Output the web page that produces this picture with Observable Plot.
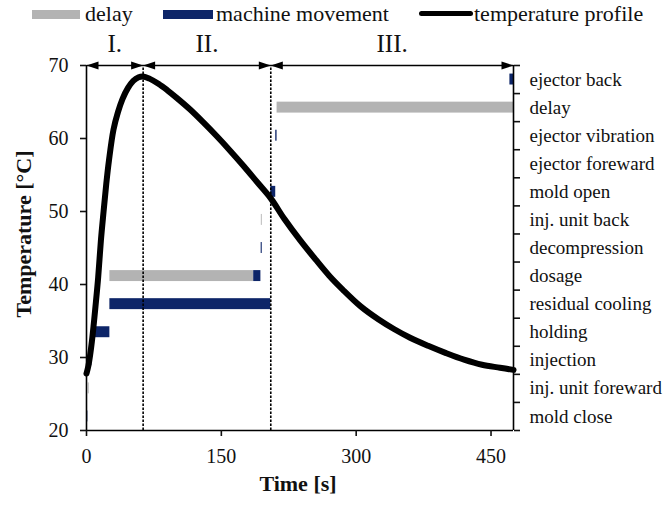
<!DOCTYPE html>
<html>
<head>
<meta charset="utf-8">
<script src="https://cdn.jsdelivr.net/npm/d3@7"></script>
<script src="https://cdn.jsdelivr.net/npm/@observablehq/plot@0.6"></script>
<style>
  html, body { margin: 0; padding: 0; background: #fff; }
  #wrap { position: relative; width: 668px; font-family: "Liberation Serif", "Times New Roman", serif; }
  #legend { position: relative; width: 668px; height: 30px; font-size: 22px; color: #111; }
  #legend .sw { position: absolute; }
  #legend .tx { position: absolute; top: 1px; white-space: nowrap; }
</style>
</head>
<body>
<div id="wrap">
  <div id="legend">
    <div class="sw" style="left:32px;top:10px;width:48px;height:9px;background:#b3b3b3"></div>
    <div class="tx" style="left:85px">delay</div>
    <div class="sw" style="left:163px;top:10px;width:50px;height:9px;background:#0d2568"></div>
    <div class="tx" style="left:216px">machine movement</div>
    <div class="sw" style="left:419px;top:11px;width:54px;height:5px;background:#000;border-radius:3px"></div>
    <div class="tx" style="left:474px">temperature profile</div>
  </div>
  <div id="chart"></div>
</div>
<script>
// ---- data ----
const timeS = [0, 2, 4, 6, 8, 10, 13, 16, 19, 22, 25, 30, 35, 40, 46, 52, 58, 63, 70, 80, 90, 100, 115, 130, 145, 160, 175, 190, 205, 220, 238, 255, 270, 285, 305, 325, 342, 360, 380, 400, 420, 440, 460, 475];
const tempC = [27.8, 28.8, 30.3, 32.2, 34.5, 37, 41, 46, 50, 53.8, 57, 61.2, 63.6, 65.4, 66.9, 67.9, 68.4, 68.5, 68.2, 67.5, 66.6, 65.6, 64.0, 62.2, 60.3, 58.3, 56.2, 54.0, 51.8, 49.0, 46.0, 43.4, 41.2, 39.3, 37.0, 35.2, 33.9, 32.7, 31.6, 30.6, 29.7, 29.0, 28.6, 28.3];

const rows = ["ejector back", "delay", "ejector vibration", "ejector foreward", "mold open", "inj. unit back", "decompression", "dosage", "residual cooling", "holding", "injection", "inj. unit foreward", "mold close"];

const barRow   = ["ejector back", "delay", "ejector vibration", "mold open", "inj. unit back", "decompression", "dosage", "dosage", "residual cooling", "holding", "injection", "inj. unit foreward", "mold close"];
const barStart = [471, 212, 210.5, 205, 194.5, 194.3, 26, 186, 26, 8, 2, 2, 0];
const barEnd   = [475, 475, 212, 210.5, 195.5, 195.5, 186, 194, 205, 26, 6, 3, 1.5];
const barType  = ["machine movement", "delay", "machine movement", "machine movement", "delay", "machine movement", "delay", "machine movement", "machine movement", "machine movement", "machine movement", "delay", "machine movement"];

const seriesNames = ["delay", "machine movement"];
const seriesColors = ["#b3b3b3", "#0d2568"];

const phases = ["I.", "II.", "III."];
const phaseStart = [0, 63, 205];
const phaseEnd = [63, 205, 475];

const xTicks = [0, 150, 300, 450];
const yTicks = [20, 30, 40, 50, 60, 70];
const xLabel = "Time [s]";
const yLabel = "Temperature [°C]";
const yMin = 20, yMax = 70, xMax = 475;

// ---- derived tables ----
const rowH = (yMax - yMin) / rows.length;
const rowCenter = name => yMax - (rows.indexOf(name) + 0.5) * rowH;
const halfBar = 0.75;
const bars = barRow.map((r, i) => ({row: r, x1: barStart[i], x2: barEnd[i], type: barType[i], yc: rowCenter(r)}));
const curve = timeS.map((t, i) => ({t, v: tempC[i]}));
const phaseData = phases.map((p, i) => ({p, a: phaseStart[i], b: phaseEnd[i]}));
const boundaries = d3.range(rows.length + 1).map(k => yMax - k * rowH);
const centers = rows.map(r => rowCenter(r));

const headR = {draw(ctx) { ctx.moveTo(0, 0); ctx.lineTo(-12, -4); ctx.lineTo(-12, 4); ctx.closePath(); }};
const headL = {draw(ctx) { ctx.moveTo(0, 0); ctx.lineTo(12, -4); ctx.lineTo(12, 4); ctx.closePath(); }};

const chart = Plot.plot({
  width: 668,
  height: 476,
  marginLeft: 86,
  marginRight: 155,
  marginTop: 35,
  marginBottom: 76,
  style: {fontFamily: '"Liberation Serif", "Times New Roman", serif', fontSize: "20px", color: "#111", background: "#fff"},
  x: {domain: [0, xMax]},
  y: {domain: [yMin, yMax]},
  color: {domain: seriesNames, range: seriesColors},
  marks: [
    Plot.rect(bars, {x1: "x1", x2: "x2", y1: d => d.yc - halfBar, y2: d => d.yc + halfBar, fill: "type"}),
    Plot.ruleX([phaseStart[1], phaseStart[2]], {y1: yMin, y2: yMax, stroke: "#000", strokeWidth: 1.6, strokeDasharray: "2.5,1.5"}),
    Plot.line(curve, {x: "t", y: "v", stroke: "#000", strokeWidth: 6, curve: "catmull-rom", strokeLinecap: "round"}),
    // frame lines
    Plot.ruleX([0, xMax], {y1: yMin, y2: yMax, stroke: "#000", strokeWidth: 1.6}),
    Plot.ruleY([yMin], {stroke: "#000", strokeWidth: 1.6}),
    // phase arrows
    Plot.link(phaseData, {x1: "a", x2: "b", y1: yMax, y2: yMax, stroke: "#000", strokeWidth: 1.6}),
    Plot.dot(phaseData, {x: "b", y: yMax, symbol: headR, fill: "#000", stroke: "none"}),
    Plot.dot(phaseData, {x: "a", y: yMax, symbol: headL, fill: "#000", stroke: "none"}),
    Plot.text(phaseData, {x: d => (d.a + d.b) / 2, y: yMax, text: "p", dy: -22, fontSize: 25, fill: "#111"}),
    // axes
    Plot.axisY({anchor: "left", ticks: yTicks, tickSize: 6, tickPadding: 12, label: null, fontSize: 20, strokeWidth: 1.6}),
    Plot.axisX({anchor: "bottom", ticks: xTicks, tickSize: 6, tickPadding: 12, label: null, fontSize: 20, strokeWidth: 1.6}),
    Plot.axisY({anchor: "right", ticks: boundaries, tickSize: 6, tickFormat: () => "", label: null, strokeWidth: 1.6}),
    Plot.axisY({anchor: "right", ticks: centers, tickSize: 0, tickPadding: 16, label: null, fontSize: 19,
      tickFormat: d => rows[centers.findIndex(c => Math.abs(c - d) < 1e-6)]}),
    // axis titles
    Plot.text([yLabel], {frameAnchor: "left", textAnchor: "middle", dx: -63, dy: -14, rotate: -90, fontWeight: "bold", fontSize: 22, fill: "#111"}),
    Plot.text([xLabel], {frameAnchor: "bottom", textAnchor: "middle", dx: -2, dy: 60, fontWeight: "bold", fontSize: 22, fill: "#111"})
  ]
});
document.getElementById("chart").appendChild(chart);
</script>
</body>
</html>
